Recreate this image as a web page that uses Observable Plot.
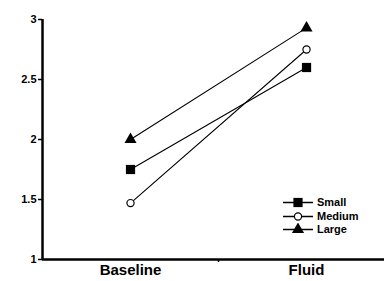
<!DOCTYPE html>
<html>
<head>
<meta charset="utf-8">
<script src="https://cdn.jsdelivr.net/npm/d3@7"></script>
<script src="https://cdn.jsdelivr.net/npm/@observablehq/plot@0.6"></script>
<style>
  html, body { margin: 0; padding: 0; background: #fff; }
  #wrap { position: relative; width: 384px; height: 281px; font-family: "Liberation Sans", Arial, sans-serif; }
  #legend { position: absolute; left: 283px; top: 196px; font-weight: bold; font-size: 11px; line-height: 13.5px; color: #000; }
  #legend .row { display: flex; align-items: center; height: 13.5px; }
  #legend svg { display: block; margin-right: 4px; }
</style>
</head>
<body>
<div id="wrap"><div id="legend"></div></div>
<script>
const groups = ["Baseline", "Fluid"];
const seriesNames = ["Small", "Medium", "Large"];
const small = [1.75, 2.6];
const medium = [1.47, 2.75];
const large = [2.0, 2.93];
const yTicks = [1, 1.5, 2, 2.5, 3];

const seriesValues = [small, medium, large];
const symbols = { Small: "square", Medium: "circle", Large: "triangle" };
const data = [];
seriesNames.forEach((s, si) => {
  groups.forEach((g, gi) => data.push({ series: s, group: g, gx: gi, value: seriesValues[si][gi] }));
});

const xDomain = [-0.5, 1.443];
const font = "Liberation Sans, Arial, sans-serif";

const chart = Plot.plot({
  width: 384,
  height: 281,
  marginLeft: 42,
  marginRight: 0,
  marginTop: 19,
  marginBottom: 22,
  style: { fontFamily: font, fontWeight: "bold", fontSize: "10px", color: "#000", background: "#fff" },
  x: { domain: xDomain, axis: null },
  y: { domain: [1, 3], axis: null },
  marks: [
    Plot.axisY({ ticks: yTicks, tickFormat: d => String(d), tickSize: 4, tickPadding: 2, strokeWidth: 1.5, fontWeight: "bold", fontSize: 11, label: null }),
    Plot.axisX({ ticks: [0.5], tickFormat: () => "", tickSize: 3, strokeWidth: 1.5, label: null }),
    Plot.axisX({ ticks: [0, 1], tickFormat: i => groups[i], tickSize: 0, tickPadding: 5, fontSize: 15, fontWeight: "bold", label: null }),
    Plot.ruleX([xDomain[0]], { stroke: "#000", strokeWidth: 2.5 }),
    Plot.ruleY([1], { stroke: "#000", strokeWidth: 2.5 }),
    Plot.line(data, { x: "gx", y: "value", z: "series", stroke: "#000", strokeWidth: 1.1 }),
    Plot.dot(data.filter(d => d.series === "Small"), { x: "gx", y: "value", symbol: "square", r: 5.2, fill: "#000" }),
    Plot.dot(data.filter(d => d.series === "Medium"), { x: "gx", y: "value", symbol: "circle", r: 3.6, fill: "#fff", stroke: "#000", strokeWidth: 1.2 }),
    Plot.dot(data.filter(d => d.series === "Large"), { x: "gx", y: "value", symbol: "triangle", r: 4.5, fill: "#000" })
  ]
});
const wrap = document.getElementById("wrap");
wrap.insertBefore(chart, wrap.firstChild);

// legend
const legend = d3.select("#legend");
seriesNames.forEach(s => {
  const row = legend.append("div").attr("class", "row");
  const svg = row.append("svg").attr("width", 30).attr("height", 13);
  svg.append("line").attr("x1", 0).attr("x2", 30).attr("y1", 6.5).attr("y2", 6.5).attr("stroke", "#000").attr("stroke-width", 1.5);
  const sym = { square: d3.symbolSquare, circle: d3.symbolCircle, triangle: d3.symbolTriangle }[symbols[s]];
  const r = { Small: 5.2, Medium: 3.6, Large: 4.5 }[s];
  svg.append("path").attr("transform", "translate(15,6.5)")
    .attr("d", d3.symbol(sym, Math.PI * r * r)())
    .attr("fill", s === "Medium" ? "#fff" : "#000")
    .attr("stroke", s === "Medium" ? "#000" : "none")
    .attr("stroke-width", 1.2);
  row.append("span").text(s);
});
</script>
</body>
</html>
